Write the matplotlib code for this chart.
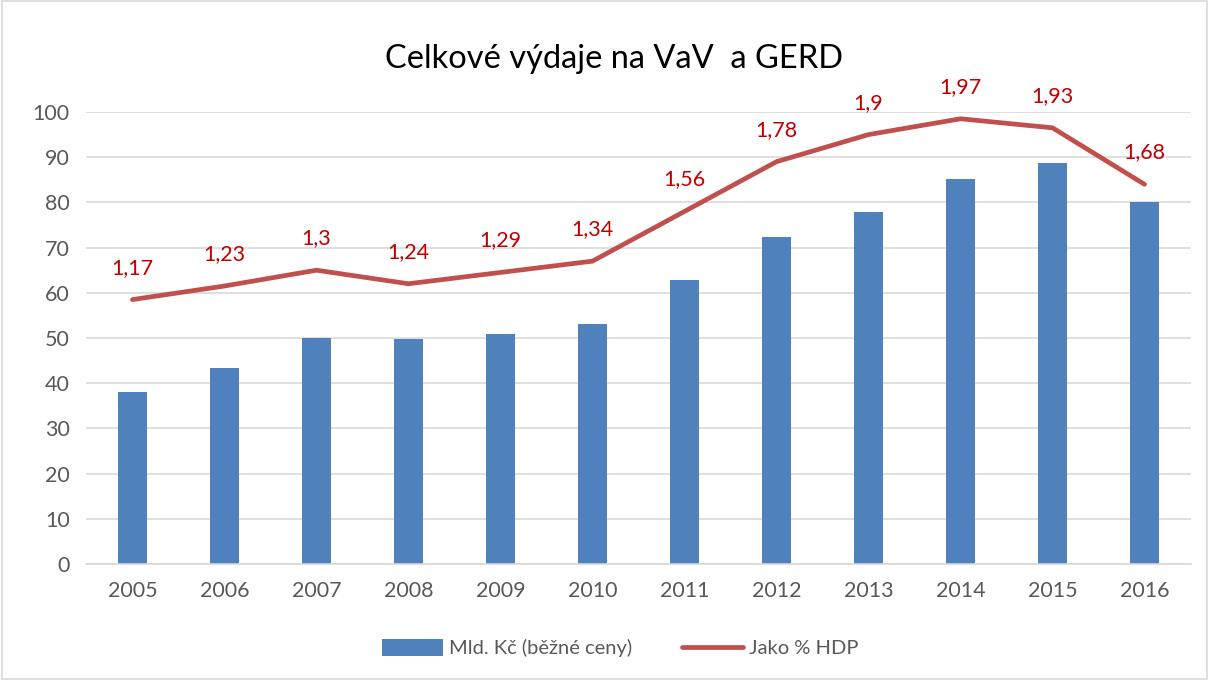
import matplotlib
matplotlib.use("Agg")
from matplotlib import pyplot as plt
from matplotlib.patches import Rectangle
import numpy as np

plt.rcParams['font.family'] = ['Lato', 'DejaVu Sans']

years = ['2005', '2006', '2007', '2008', '2009', '2010',
         '2011', '2012', '2013', '2014', '2015', '2016']
mld_kc = [38.1, 43.3, 50.0, 49.8, 50.9, 53.0, 62.8, 72.4, 77.9, 85.1, 88.7, 80.1]
hdp_pct = [1.17, 1.23, 1.3, 1.24, 1.29, 1.34, 1.56, 1.78, 1.9, 1.97, 1.93, 1.68]

bar_col = '#4F81BD'
line_col = '#C0504D'
lab_col = '#C00000'
grid_col = '#D9D9D9'
txt_col = '#595959'

fig = plt.figure(figsize=(12.09, 6.8), dpi=100)
fig.patches.append(Rectangle((0.002, 0.002), 0.996, 0.996, transform=fig.transFigure,
                             fill=False, edgecolor=grid_col, linewidth=1.2))
ax = fig.add_axes([0.0715, 0.1706, 0.9132, 0.6647])

x = np.arange(len(years))
bars = ax.bar(x, mld_kc, width=0.31, color=bar_col, label='Mld. Kč (běžné ceny)', zorder=2)

# line is drawn on the same scale, % HDP * 50
line_y = [v * 50 for v in hdp_pct]
line, = ax.plot(x, line_y, color=line_col, linewidth=3.4, solid_capstyle='round',
                label='Jako % HDP', zorder=3)
for xi, yi, v in zip(x, line_y, hdp_pct):
    ax.annotate(('%g' % v).replace('.', ','), (xi, yi), xytext=(0, 23),
                textcoords='offset points', ha='center', va='center',
                color=lab_col, fontsize=15.5, annotation_clip=False)

ax.set_xlim(-0.5, len(years) - 0.5)
ax.set_ylim(0, 100)
ax.set_yticks(range(0, 101, 10))
ax.set_xticks(x)
ax.set_xticklabels(years)
ax.yaxis.grid(True, color=grid_col, linewidth=1.2, zorder=0)
ax.set_axisbelow(True)
for s in ['top', 'right', 'left']:
    ax.spines[s].set_visible(False)
ax.spines['bottom'].set_color(grid_col)
ax.spines['bottom'].set_linewidth(1.2)
ax.tick_params(axis='both', length=0, labelsize=15.5, labelcolor=txt_col)
ax.tick_params(axis='x', pad=12)
ax.tick_params(axis='y', pad=12)

fig.text(0.508, 0.913, 'Celkové výdaje na VaV  a GERD', ha='center', va='center',
         fontsize=23.5, color='black')

fig.legend(handles=[bars, line], loc='center', bbox_to_anchor=(0.513, 0.047), ncol=2,
           frameon=False, fontsize=14.5, labelcolor=txt_col, handlelength=3.0,
           handleheight=0.9, columnspacing=2.5, handletextpad=0.3)

fig.savefig('out.png', dpi=100)
